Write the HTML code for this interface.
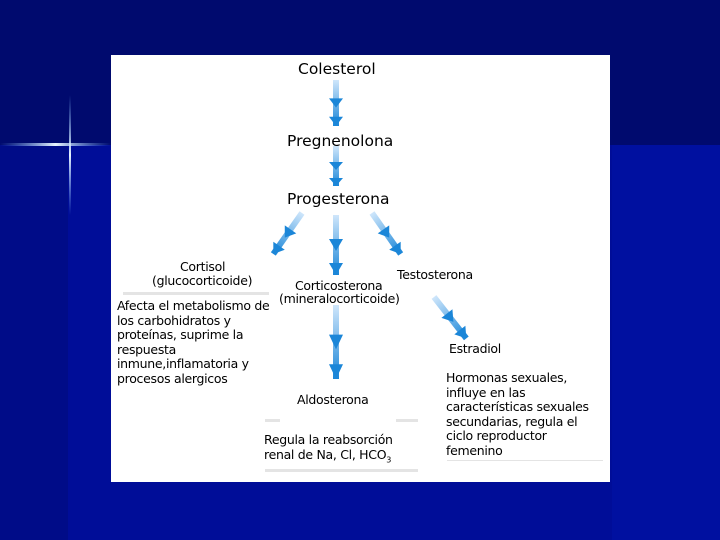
<!DOCTYPE html>
<html><head><meta charset="utf-8"><style>
html,body{margin:0;padding:0}
body{width:720px;height:540px;position:relative;overflow:hidden;background:#0010a0;font-family:"DejaVu Sans","Liberation Sans",sans-serif;}
.bg1{position:absolute;left:0;top:0;width:720px;height:145px;background:#000a6e}
.bg2{position:absolute;left:0;top:145px;width:68px;height:395px;background:#000c88}
.bg3{position:absolute;left:68px;top:145px;width:544px;height:395px;background:#000d98}
.panel{position:absolute;left:111px;top:55px;width:499px;height:427px;background:#fff}
.t{position:absolute;color:#000;white-space:nowrap;line-height:1}
.s{font-size:12.5px;letter-spacing:-0.3px}
.b{font-size:15.5px}
.g{position:absolute;background:#e4e4e4;height:3px}
</style></head><body>
<div class="bg1"></div><div class="bg2"></div><div class="bg3"></div>
<svg style="position:absolute;left:0;top:0" width="720" height="540">
<defs><linearGradient id="lg" x1="0" x2="1"><stop offset="0" stop-color="#7fc0ff" stop-opacity="0"/><stop offset="0.5" stop-color="#e8f4ff"/><stop offset="1" stop-color="#7fc0ff" stop-opacity="0"/></linearGradient>
<linearGradient id="lv" x1="0" y1="0" x2="0" y2="1"><stop offset="0" stop-color="#7fc0ff" stop-opacity="0"/><stop offset="0.5" stop-color="#e8f4ff"/><stop offset="1" stop-color="#7fc0ff" stop-opacity="0"/></linearGradient></defs>
<rect x="0" y="143" width="111" height="3" fill="url(#lg)"/>
<rect x="69" y="95" width="2" height="120" fill="url(#lv)"/>
</svg>
<div class="panel"></div>
<svg style="position:absolute;left:0;top:0" width="720" height="540">
<defs><linearGradient id="ag" x1="0" y1="0" x2="0" y2="1"><stop offset="0" stop-color="#cfe6fb"/><stop offset="1" stop-color="#1a86d8"/></linearGradient>
<g id="ar"><rect x="-3" y="0" width="6" height="50" fill="url(#ag)"/><polygon points="-7,20 7,20 0,30" fill="#1b86d8"/><polygon points="-7,40 7,40 0,50" fill="#1b86d8"/></g></defs>
<g transform="translate(336,80) scale(1,0.92)"><use href="#ar"/></g>
<g transform="translate(336,146) scale(1,0.8)"><use href="#ar"/></g>
<g transform="translate(336,215) scale(1,1.2)"><use href="#ar"/></g>
<g transform="translate(302,213) rotate(35) scale(1,1.0)"><use href="#ar"/></g>
<g transform="translate(372,213) rotate(-35) scale(1,1.0)"><use href="#ar"/></g>
<g transform="translate(434,297) rotate(-38) scale(1,1.05)"><use href="#ar"/></g>
<g transform="translate(336,305) scale(1,1.48)"><use href="#ar"/></g>
</svg>
<div class="t b" style="left:298px;top:62px">Colesterol</div>
<div class="t b" style="left:287px;top:134px">Pregnenolona</div>
<div class="t b" style="left:287px;top:192px">Progesterona</div>
<div class="t s" style="left:180px;top:261px">Cortisol</div>
<div class="t s" style="left:152px;top:275px">(glucocorticoide)</div>
<div class="t s" style="left:295px;top:280px">Corticosterona</div>
<div class="t s" style="left:279px;top:293px">(mineralocorticoide)</div>
<div class="t s" style="left:397px;top:269px">Testosterona</div>
<div class="g" style="left:123px;top:292px;width:146px"></div>
<div class="t s" style="left:117px;top:299px;line-height:14.5px">Afecta el metabolismo de<br>los carbohidratos y<br>proteínas, suprime la<br>respuesta<br>inmune,inflamatoria y<br>procesos alergicos</div>
<div class="t s" style="left:449px;top:343px">Estradiol</div>
<div class="t s" style="left:446px;top:371px;line-height:14.5px">Hormonas sexuales,<br>influye en las<br>características sexuales<br>secundarias, regula el<br>ciclo reproductor<br>femenino</div>
<div class="g" style="left:447px;top:460px;width:156px;height:1px"></div>
<div class="t s" style="left:297px;top:394px">Aldosterona</div>
<div class="g" style="left:265px;top:419px;width:15px"></div>
<div class="g" style="left:396px;top:419px;width:22px"></div>
<div class="t s" style="left:264px;top:433px;line-height:14.5px">Regula la reabsorción<br>renal de Na, Cl, HCO<sub style="font-size:8px">3</sub></div>
<div class="g" style="left:265px;top:469px;width:153px"></div>
</body></html>
